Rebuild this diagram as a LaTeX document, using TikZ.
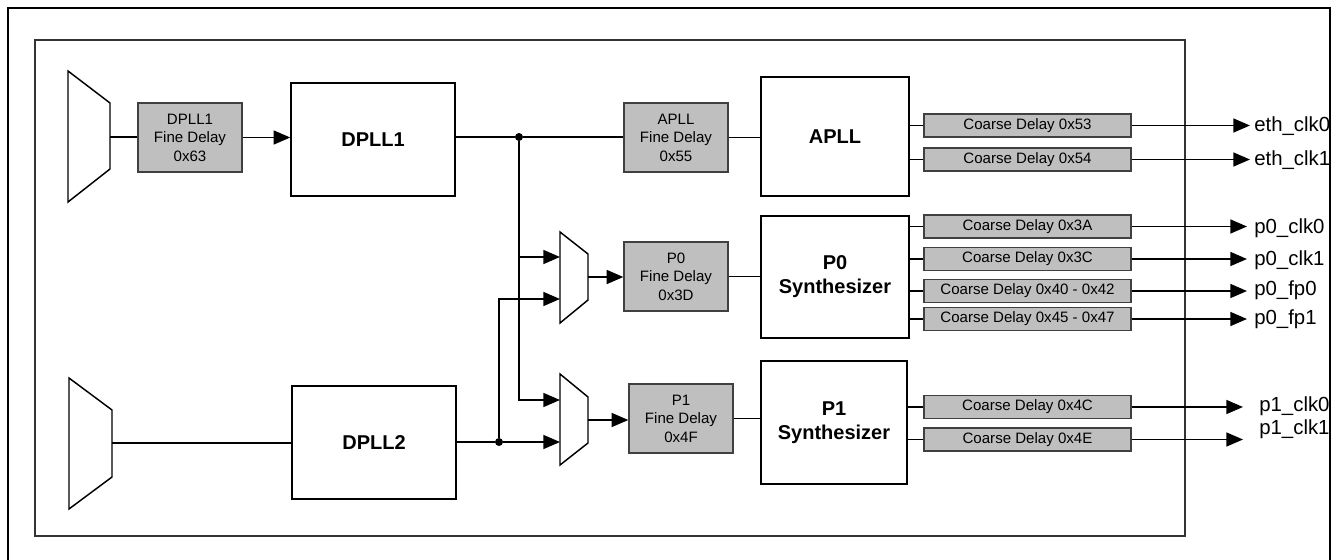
\documentclass[tikz,border=0pt]{standalone}
\usepackage{fontspec}
\setmainfont{Liberation Sans}
\usetikzlibrary{arrows.meta}
\begin{document}
\begin{tikzpicture}[x=0.75pt,y=-0.75pt,
  wire/.style={line width=1.1pt},
  arr/.style={wire,-{Triangle[length=12.5pt,width=10.5pt]}},
  blk/.style={draw,line width=1.1pt,inner sep=0pt,align=center,font=\fontsize{15}{18}\selectfont\bfseries},
  dly/.style={draw=black!75,fill=black!25,line width=1pt,inner sep=0pt,align=center,font=\fontsize{11.3}{13.9}\selectfont},
  fine/.style={dly,minimum width=78pt,minimum height=51.75pt},
  coarse/.style={dly,minimum width=155.25pt,minimum height=17.25pt},
  lbl/.style={anchor=base west,inner sep=0pt,font=\fontsize{15.3}{18}\selectfont},
  jdot/.style={circle,fill,inner sep=0pt,minimum size=6pt}]
\useasboundingbox (0,0) rectangle (1343,560);
% frames
\draw[line width=1.5pt] (8,565) -- (8,8) -- (1330,8) -- (1330,565);
\draw[line width=1.1pt,draw=black!80] (35,40) rectangle (1185,536);
% muxes
\draw[wire] (68,71) -- (110,103) -- (110,169) -- (68,202) -- cycle;
\coordinate (mA) at (110,137);
\draw[wire] (69,378) -- (112,410) -- (112,477) -- (69,509) -- cycle;
\coordinate (mB) at (112,443);
\draw[wire] (560,232) -- (588,254) -- (588,300) -- (560,323) -- cycle;
\coordinate (m0o) at (588,277);
\coordinate (m0a) at (560,257);
\coordinate (m0b) at (560,299);
\draw[wire] (560,374) -- (588,397) -- (588,443) -- (560,465) -- cycle;
\coordinate (m1o) at (588,420);
\coordinate (m1a) at (560,400);
\coordinate (m1b) at (560,442);
% blocks
\node[fine] (f1) at (190,137.5) {DPLL1\\Fine Delay\\0x63};
\node[blk,minimum width=123pt,minimum height=84.75pt] (dpll1) at (373,139.5) {DPLL1};
\node[blk,minimum width=123pt,minimum height=84.75pt] (dpll2) at (374,442.5) {DPLL2};
\node[fine] (fa) at (676,137.5) {APLL\\Fine Delay\\0x55};
\node[blk,minimum width=111pt,minimum height=89.25pt] (apll) at (835,136.5) {APLL};
\node[fine] (f0) at (676,276.5) {P0\\Fine Delay\\0x3D};
\node[blk,minimum width=111pt,minimum height=91.5pt] (p0) at (835,277) {P0\\Synthesizer};
\node[fine] (fp1) at (681,418.5) {P1\\Fine Delay\\0x4F};
\node[blk,minimum width=109.5pt,minimum height=92.25pt] (p1) at (834,422.5) {P1\\Synthesizer};
% coarse delays
\node[coarse] (r1) at (1027.5,125.5) {Coarse Delay 0x53};
\node[coarse] (r2) at (1027.5,159.5) {Coarse Delay 0x54};
\node[coarse] (r3) at (1027.5,226.5) {Coarse Delay 0x3A};
\node[coarse] (r4) at (1027.5,259) {Coarse Delay 0x3C};
\node[coarse] (r5) at (1027.5,291) {Coarse Delay 0x40 - 0x42};
\node[coarse] (r6) at (1027.5,319) {Coarse Delay 0x45 - 0x47};
\node[coarse] (r7) at (1027.5,407) {Coarse Delay 0x4C};
\node[coarse] (r8) at (1027.5,439.5) {Coarse Delay 0x4E};
% junctions
\node[jdot] (j1) at (519,137) {};
\node[jdot] (j2) at (499,442) {};
% wires top
\draw[wire] (mA) -- (f1.west |- mA);
\draw[arr] (f1.east) -- (dpll1.west |- f1.east);
\draw[wire] (dpll1.east |- j1) -- (j1) -- (fa.west |- j1);
\draw[wire] (fa.east) -- (apll.west |- fa.east);
\draw[arr] (j1) |- (m0a);
\draw[arr] (j1) |- (m1a);
% wires bottom
\draw[wire] (mB) -- (dpll2.west |- mB);
\draw[wire] (dpll2.east |- j2) -- (j2);
\draw[arr] (j2) -- (m1b);
\draw[arr] (j2) |- (m0b);
\draw[arr] (m0o) -- (f0.west |- m0o);
\draw[wire] (f0.east) -- (p0.west |- f0.east);
\draw[arr] (m1o) -- (fp1.west |- m1o);
\draw[wire] (fp1.east) -- (p1.west |- fp1.east);
% outputs
\foreach \r/\b in {r1/apll,r2/apll,r3/p0,r4/p0,r5/p0,r6/p0,r7/p1,r8/p1}
  \draw[wire] (\b.east |- \r.west) -- (\r.west);
\coordinate (o1) at (1250,125.5);
\coordinate (o2) at (1250,159.5);
\coordinate (o3) at (1247,226.5);
\coordinate (o4) at (1247,259);
\coordinate (o5) at (1247,291);
\coordinate (o6) at (1247,319);
\coordinate (o7) at (1243,407);
\coordinate (o8) at (1243,439.5);
\foreach \r/\o in {r1/o1,r2/o2,r3/o3,r4/o4,r5/o5,r6/o6,r7/o7,r8/o8}
  \draw[arr] (\r.east) -- (\o);
\node[lbl] (l1) at (1254,132) {eth\_clk0};
\node[lbl] (l2) at (1254,166) {eth\_clk1};
\node[lbl] (l3) at (1254,233) {p0\_clk0};
\node[lbl] (l4) at (1254,265) {p0\_clk1};
\node[lbl] (l5) at (1254,295) {p0\_fp0};
\node[lbl] (l6) at (1254,324) {p0\_fp1};
\node[lbl] (l7) at (1259,411) {p1\_clk0};
\node[lbl] (l8) at (1259,434) {p1\_clk1};
\end{tikzpicture}
\end{document}
